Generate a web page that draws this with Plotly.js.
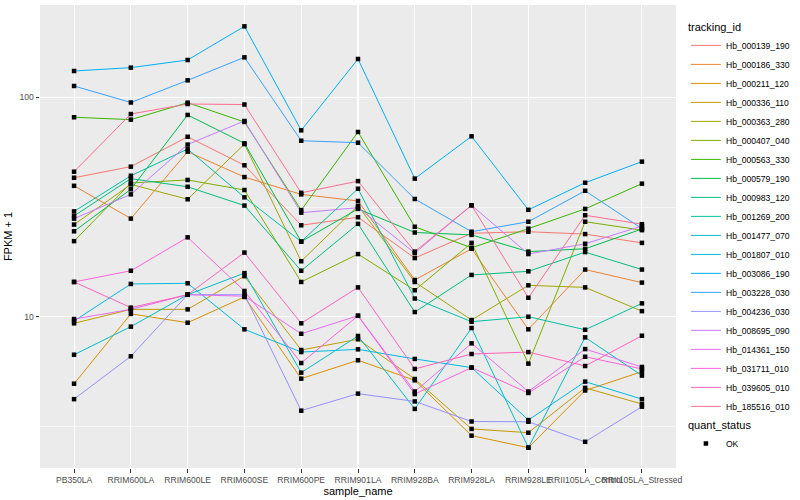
<!DOCTYPE html>
<html><head><meta charset="utf-8">
<script src="https://cdn.plot.ly/plotly-3.0.1.min.js"></script>
<style>html,body{margin:0;padding:0;background:#fff}#chart{width:800px;height:500px}</style>
</head><body><div id="chart"></div>
<script>
const samples = ['PB350LA','RRIM600LA','RRIM600LE','RRIM600SE','RRIM600PE','RRIM901LA','RRIM928BA','RRIM928LA','RRIM928LE','RRII105LA_Control','RRII105LA_Stressed'];

const Hb_000139_190 = [43.0, 48.3, 66.1, 49.0, 26.1, 28.4, 18.5, 24.0, 24.4, 23.8, 21.7];
const Hb_000186_330 = [39.5, 28.0, 56.5, 43.3, 36.1, 33.7, 14.7, 20.4, 8.76, 16.4, 14.3];
const Hb_000211_120 = [4.95, 10.3, 9.39, 12.3, 5.22, 6.33, 5.13, 2.87, 2.53, 4.61, 5.62];
const Hb_000336_110 = [9.33, 10.8, 10.8, 15.3, 7.05, 7.89, 5.20, 3.08, 2.96, 4.74, 4.00];
const Hb_000363_280 = [26.3, 40.1, 34.3, 61.2, 17.9, 32.0, 14.4, 9.66, 13.9, 13.6, 10.6];
const Hb_000407_040 = [22.1, 40.7, 42.0, 37.8, 14.4, 19.3, 13.2, 21.7, 6.11, 27.1, 24.8];
const Hb_000563_330 = [81.1, 79.1, 94.5, 77.2, 30.6, 69.5, 25.7, 20.6, 25.2, 31.0, 40.4];
const Hb_000579_190 = [24.5, 38.1, 83.1, 61.7, 22.0, 31.0, 24.2, 23.6, 19.8, 20.4, 25.1];
const Hb_000983_120 = [28.8, 42.6, 39.1, 32.1, 16.2, 26.5, 10.5, 15.5, 16.1, 19.7, 16.4];
const Hb_001269_200 = [30.2, 43.9, 58.1, 35.0, 22.0, 38.3, 12.1, 9.49, 10.0, 8.72, 11.5];
const Hb_001477_070 = [6.71, 9.01, 12.6, 15.8, 5.56, 8.17, 3.80, 8.88, 2.53, 8.05, 5.39];
const Hb_001807_010 = [9.56, 14.1, 14.2, 8.76, 6.90, 7.10, 6.42, 5.86, 3.38, 5.06, 4.21];
const Hb_003086_190 = [131.8, 136.5, 147.9, 210.6, 70.7, 149.5, 42.6, 66.4, 30.7, 40.8, 50.9];
const Hb_003228_030 = [112.6, 94.7, 119.5, 152.1, 63.4, 62.1, 34.4, 24.4, 27.1, 37.5, 25.2];
const Hb_004236_030 = [4.21, 6.60, 12.6, 12.6, 3.73, 4.46, 4.11, 3.33, 3.32, 2.69, 3.89];
const Hb_008695_090 = [28.0, 36.1, 60.9, 78.0, 29.8, 31.4, 19.5, 32.2, 19.3, 21.5, 25.9];
const Hb_014361_150 = [9.76, 10.8, 12.6, 12.4, 8.36, 10.1, 4.56, 7.56, 4.56, 7.12, 5.90];
const Hb_031711_010 = [14.4, 16.2, 23.0, 13.1, 6.15, 10.1, 4.44, 5.86, 4.49, 6.57, 5.78];
const Hb_039605_010 = [14.4, 11.0, 12.6, 19.6, 9.33, 13.6, 5.78, 6.76, 6.90, 5.96, 8.19];
const Hb_185516_010 = [45.8, 83.9, 93.2, 92.7, 36.7, 41.5, 19.8, 32.2, 12.2, 29.0, 26.4];

const trackingIds = ['Hb_000139_190','Hb_000186_330','Hb_000211_120','Hb_000336_110','Hb_000363_280','Hb_000407_040','Hb_000563_330','Hb_000579_190','Hb_000983_120','Hb_001269_200','Hb_001477_070','Hb_001807_010','Hb_003086_190','Hb_003228_030','Hb_004236_030','Hb_008695_090','Hb_014361_150','Hb_031711_010','Hb_039605_010','Hb_185516_010'];
const seriesValues = [Hb_000139_190, Hb_000186_330, Hb_000211_120, Hb_000336_110, Hb_000363_280, Hb_000407_040, Hb_000563_330, Hb_000579_190, Hb_000983_120, Hb_001269_200, Hb_001477_070, Hb_001807_010, Hb_003086_190, Hb_003228_030, Hb_004236_030, Hb_008695_090, Hb_014361_150, Hb_031711_010, Hb_039605_010, Hb_185516_010];
const hueColors = ['#F8766D','#EA8331','#D89000','#C09B00','#A3A500','#7CAE00','#39B600','#00BB4E','#00BF7D','#00C1A3','#00BFC4','#00BAE0','#00B0F6','#35A2FF','#9590FF','#C77CFF','#E76BF3','#FA62DB','#FF62BC','#FF6C91'];
const quantStatus = 'OK';

const FONT = 'Liberation Sans, Arial, Helvetica, sans-serif';

const traces = trackingIds.map((id, i) => ({
  type: 'scatter', mode: 'lines', name: id,
  x: samples, y: seriesValues[i],
  line: {color: hueColors[i], width: 1},
  legend: 'legend', hoverinfo: 'skip'
}));

const px = [], py = [];
seriesValues.forEach(v => v.forEach((val, j) => { px.push(samples[j]); py.push(val); }));
traces.push({
  type: 'scatter', mode: 'markers', name: quantStatus,
  x: px, y: py,
  marker: {color: '#000', size: 4.5, symbol: 'square'},
  legend: 'legend2', hoverinfo: 'skip'
});

const layout = {
  width: 800, height: 500,
  margin: {l: 40, r: 117, t: 5, b: 32},
  paper_bgcolor: '#fff', plot_bgcolor: '#EBEBEB',
  font: {family: FONT, color: '#000'},
  xaxis: {
    type: 'category', categoryorder: 'array', categoryarray: samples,
    range: [-0.6, 10.6], tickangle: 0,
    showgrid: true, gridcolor: '#fff', gridwidth: 1.1,
    zeroline: false, showline: false,
    ticks: 'outside', ticklen: 3.5, tickcolor: '#333', tickwidth: 1,
    tickfont: {size: 8.6, color: '#4D4D4D', family: FONT},
    title: {text: 'sample_name', font: {size: 11, color: '#000'}, standoff: 2}
  },
  yaxis: {
    type: 'log', range: [0.3104, 2.4207],
    tickmode: 'array', tickvals: [10, 100], ticktext: ['10', '100'],
    showgrid: true, gridcolor: '#fff', gridwidth: 1.1,
    minor: {tickmode: 'array', tickvals: [Math.sqrt(10), Math.sqrt(1000)], showgrid: true, gridcolor: '#fff', gridwidth: 0.55, ticks: ''},
    zeroline: false, showline: false,
    ticks: 'outside', ticklen: 3.5, tickcolor: '#333', tickwidth: 1,
    tickfont: {size: 8.6, color: '#4D4D4D', family: FONT},
    title: {text: 'FPKM + 1', font: {size: 11, color: '#000'}, standoff: 4}
  },
  showlegend: true,
  legend: {
    x: 1.0156, xanchor: 'left', y: 0.975, yanchor: 'top',
    bgcolor: 'rgba(0,0,0,0)', itemwidth: 30,
    font: {size: 8.6, family: FONT, color: '#000'},
    title: {text: 'tracking_id', font: {size: 11, family: FONT, color: '#000'}},
    tracegroupgap: 0, traceorder: 'normal'
  },
  legend2: {
    x: 1.0156, xanchor: 'left', y: 0.115, yanchor: 'top',
    bgcolor: 'rgba(0,0,0,0)', itemwidth: 30,
    font: {size: 8.6, family: FONT, color: '#000'},
    title: {text: 'quant_status', font: {size: 11, family: FONT, color: '#000'}}
  }
};

Plotly.newPlot('chart', traces, layout, {displayModeBar: false, staticPlot: true});
</script>
</body></html>
